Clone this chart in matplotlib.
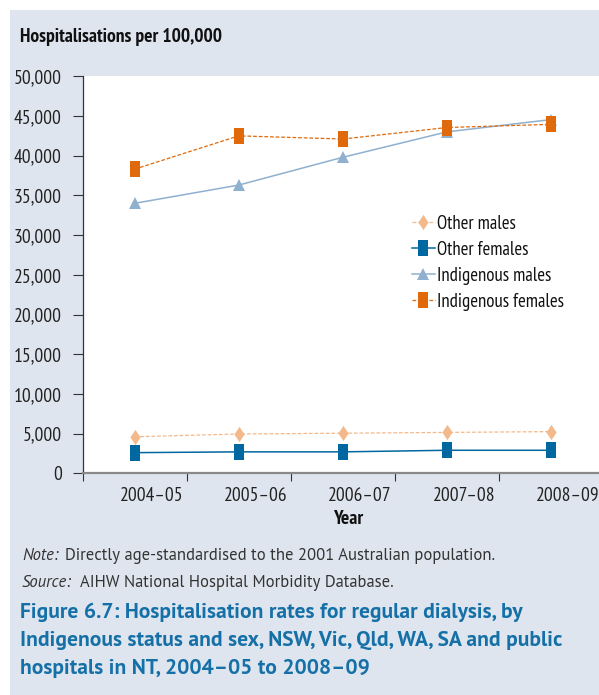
import numpy as np
import matplotlib
matplotlib.use("Agg")
import matplotlib.pyplot as plt
from matplotlib import font_manager as fm
from matplotlib.patches import Rectangle
from matplotlib.transforms import ScaledTranslation

weights = {}
for f in fm.fontManager.ttflist:
    if f.style == "normal":
        weights.setdefault(f.name, set()).add(int(f.weight) if str(f.weight).isdigit() else 0)


def pick(prefs):
    # first family that has both a regular and a bold face
    for n in prefs:
        if {400, 700} <= weights.get(n, set()):
            return n
    return "DejaVu Sans"


NARROW = pick(["PT Sans Narrow", "Fira Sans Condensed", "Roboto Condensed",
               "Archivo Narrow", "Liberation Sans Narrow"])
BODY = pick(["Source Sans Pro", "PT Sans", "Fira Sans", "Open Sans"])
plt.rcParams["font.family"] = [NARROW, "DejaVu Sans"]

years = ["2004\u201305", "2005\u201306", "2006\u201307", "2007\u201308", "2008\u201309"]
other_males = [4600, 4950, 5050, 5150, 5250]
other_females = [2600, 2700, 2700, 2900, 2900]
indigenous_males = [34000, 36300, 39800, 43000, 44550]
indigenous_females = [38300, 42500, 42100, 43550, 43950]

W, H = 599, 695
PANEL = "#dfe5ef"
TITLE_BLUE = "#1470a6"

# tall rectangle / tall diamond markers
rect = [(-2, -3), (2, -3), (2, 3), (-2, 3), (-2, -3)]
diam = [(0, -3), (2, 0), (0, 3), (-2, 0), (0, -3)]

fig = plt.figure(figsize=(W / 100, H / 100), dpi=100)
fig.patch.set_facecolor("white")
fig.patches.append(Rectangle((10 / W, 0), 1, (H - 10) / H, transform=fig.transFigure,
                             facecolor=PANEL, edgecolor="none", zorder=-10))

ax = fig.add_axes([82.5 / W, 1 - 473.3 / H, 1 - 82.5 / W, (473.3 - 76.3) / H])
ax.set_facecolor("white")

x = np.arange(len(years))
ax.plot(x, other_males, color="#f4b98a", linestyle=(0, (3, 1.5)), linewidth=0.9,
        marker=diam, markersize=11, markeredgewidth=0, label="Other males")
ax.plot(x, other_females, color="#0068a0", linewidth=1.1,
        marker=rect, markersize=11, markeredgewidth=0, label="Other females")
ax.plot(x, indigenous_males, color="#8fb0cf", linewidth=1.1,
        marker="^", markersize=9, markeredgewidth=0, label="Indigenous males")
ax.plot(x, indigenous_females, color="#e06a0b", linestyle=(0, (3, 1.5)), linewidth=0.9,
        marker=rect, markersize=11, markeredgewidth=0, label="Indigenous females")

ax.set_xlim(-0.5, 4.46)
ax.set_ylim(0, 50000)
ax.set_yticks(np.arange(0, 50001, 5000))
ax.set_yticklabels([f"{v:,}" for v in range(0, 50001, 5000)], fontsize=14, color="#222222")
ax.tick_params(axis="y", direction="out", length=7, width=0.8, color="#333333", pad=8)

ax.set_xticks(x)
ax.set_xticklabels(years, fontsize=14, color="#222222")
ax.set_xticks(np.arange(-0.5, 4, 1), minor=True)
ax.tick_params(axis="x", which="major", length=0, pad=10)
ax.tick_params(axis="x", which="minor", direction="out", length=6, width=0.8, color="#333333")
shift = ScaledTranslation(17 / 100, 0, fig.dpi_scale_trans)
for lbl in ax.get_xticklabels():
    lbl.set_transform(lbl.get_transform() + shift)

for s in ["top", "right"]:
    ax.spines[s].set_visible(False)
ax.spines["left"].set_color("#333333")
ax.spines["left"].set_linewidth(0.9)
ax.spines["bottom"].set_color("#8a8a8a")
ax.spines["bottom"].set_linewidth(1.6)

leg = ax.legend(loc="upper left", bbox_to_anchor=((412 - 82.5) / (W - 82.5), 1 - (215 - 76.3) / 397),
                frameon=False, fontsize=13.5, handlelength=1.2, handletextpad=0.15,
                labelspacing=0.42, borderaxespad=0, borderpad=0)
for t in leg.get_texts():
    t.set_color("#111111")

fig.text(20 / W, 1 - 37 / H, "Hospitalisations per 100,000", fontsize=14,
         fontweight="bold", color="#111111", va="center", ha="left")
fig.text(348 / W, 1 - 519 / H, "Year", fontsize=14, fontweight="bold",
         color="#111111", va="center", ha="center")

note_font = [BODY, "DejaVu Sans"]
fig.text(22 / W, 1 - 556 / H, "Note:", fontsize=12, style="italic",
         family=note_font, color="#333333", va="center", ha="left")
fig.text(65 / W, 1 - 556 / H, "Directly age-standardised to the 2001 Australian population.",
         fontsize=12, family=note_font, color="#333333", va="center", ha="left")
fig.text(22 / W, 1 - 583 / H, "Source:", fontsize=12, style="italic",
         family=note_font, color="#333333", va="center", ha="left")
fig.text(80 / W, 1 - 583 / H, "AIHW National Hospital Morbidity Database.",
         fontsize=12, family=note_font, color="#333333", va="center", ha="left")

fig.text(20 / W, 1 - 603 / H,
         "Figure 6.7: Hospitalisation rates for regular dialysis, by\n"
         "Indigenous status and sex, NSW, Vic, Qld, WA, SA and public\n"
         "hospitals in NT, 2004\u201305 to 2008\u201309",
         fontsize=15.5, fontweight="bold", family=[BODY, "DejaVu Sans"],
         color=TITLE_BLUE, va="top", ha="left", linespacing=1.58)

fig.savefig("out.png", dpi=100)
